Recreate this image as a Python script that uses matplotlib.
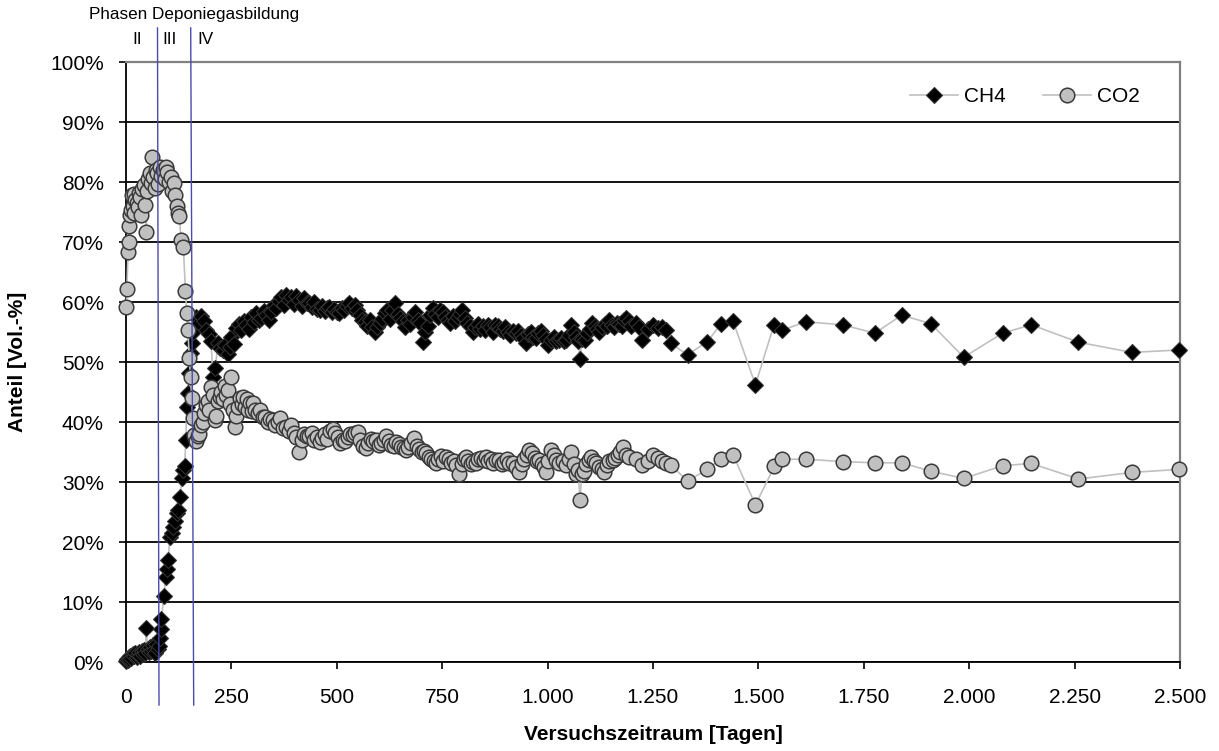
import matplotlib
matplotlib.use('Agg')
import matplotlib.pyplot as plt
import matplotlib.ticker as mticker
from matplotlib.lines import Line2D

plt.rcParams['font.family'] = ['Liberation Sans', 'DejaVu Sans']

# ------------------------------------------------------------
# Data
# ------------------------------------------------------------
ch4_days = [0, 2, 4, 6, 8, 10, 13, 16, 19, 22, 25, 28, 31, 34, 37, 40, 43, 46, 48, 51,
            54, 57, 60, 63, 66, 69, 72, 75, 78, 80, 82, 84, 90, 94, 97, 100, 104, 108, 112, 116,
            120, 124, 128, 133, 136, 139, 142, 144, 147, 150, 153, 157, 160, 166, 172, 178, 184, 190, 196, 202,
            206, 212, 218, 224, 230, 236, 241, 246, 250, 256, 261, 267, 273, 279, 285, 291, 297, 303, 309, 315,
            321, 327, 332, 338, 344, 350, 356, 362, 368, 374, 380, 386, 392, 398, 404, 411, 417, 423, 429, 435,
            441, 447, 453, 459, 465, 471, 477, 482, 488, 494, 500, 506, 512, 518, 524, 530, 536, 542, 548, 554,
            560, 566, 572, 578, 584, 590, 596, 602, 608, 614, 620, 626, 632, 638, 644, 650, 656, 662, 668, 674,
            680, 686, 692, 698, 704, 710, 716, 722, 727, 733, 739, 745, 751, 757, 763, 769, 775, 781, 787, 793,
            798, 804, 810, 816, 822, 828, 834, 840, 846, 852, 858, 864, 870, 876, 882, 888, 894, 900, 906, 912,
            918, 924, 930, 936, 942, 948, 954, 960, 966, 972, 978, 984, 990, 996, 1002, 1008, 1014, 1020, 1026, 1032,
            1038, 1044, 1050, 1056, 1062, 1067, 1073, 1077, 1082, 1088, 1094, 1100, 1106, 1112, 1118, 1123, 1129, 1135, 1141, 1146,
            1152, 1158, 1164, 1170, 1176, 1181, 1186, 1192, 1198, 1209, 1217, 1225, 1237, 1249, 1262, 1272, 1281, 1292, 1332, 1379,
            1412, 1440, 1493, 1537, 1557, 1612, 1700, 1776, 1840, 1909, 1987, 2079, 2147, 2259, 2386, 2497]
ch4_pct = [0.2, 0.5, 0.3, 0.8, 0.5, 1.0, 0.7, 1.3, 1.0, 1.5, 0.8, 1.2, 1.6, 1.0, 1.8, 1.3, 2.0, 1.5, 5.7, 2.2,
           1.6, 2.5, 1.8, 2.8, 2.0, 1.5, 3.0, 2.2, 2.6, 4.0, 5.5, 7.2, 11.0, 14.2, 15.5, 17.0, 20.8, 21.5, 22.5, 23.5,
           24.8, 25.3, 27.5, 30.6, 32.0, 32.6, 37.0, 42.5, 44.8, 48.1, 51.5, 53.2, 55.0, 57.5, 56.5, 57.6, 56.8, 55.3, 54.6, 53.5,
           47.5, 49.0, 53.1, 52.3, 52.0, 52.8, 51.4, 52.5, 54.2, 53.0, 55.6, 56.3, 55.3, 56.8, 56.2, 55.5, 57.5, 56.7, 58.1, 57.0,
           57.3, 58.5, 57.8, 57.0, 58.4, 59.5, 59.0, 60.2, 60.9, 59.5, 61.2, 60.3, 60.9, 59.6, 61.0, 60.3, 59.4, 60.6, 59.8, 59.8,
           59.2, 60.0, 58.8, 58.7, 59.4, 58.5, 59.0, 59.2, 58.3, 58.9, 58.4, 58.1, 59.0, 58.6, 59.3, 59.8, 59.0, 59.5, 58.7, 57.8,
           57.0, 56.7, 56.0, 57.0, 55.8, 55.0, 55.8, 56.5, 57.2, 58.1, 58.6, 57.2, 58.6, 59.8, 58.0, 57.3, 56.8, 55.9, 57.0, 56.3,
           57.5, 58.4, 57.0, 56.5, 53.4, 55.0, 56.0, 57.8, 59.0, 58.0, 57.5, 58.6, 58.4, 57.5, 57.0, 56.5, 57.6, 56.8, 57.5, 58.0,
           58.7, 57.3, 56.5, 56.0, 55.0, 55.8, 56.4, 55.5, 56.0, 55.3, 56.2, 55.8, 55.0, 56.2, 56.0, 55.5, 55.2, 55.8, 55.0, 54.5,
           55.2, 54.8, 55.2, 54.5, 54.0, 53.1, 54.6, 55.0, 54.2, 54.0, 54.8, 55.2, 54.5, 53.8, 52.8, 53.6, 54.2, 53.5, 53.7, 54.0,
           53.5, 53.7, 54.5, 56.2, 55.0, 54.2, 53.5, 50.5, 53.8, 53.7, 54.8, 55.5, 56.5, 56.0, 55.5, 55.0, 55.8, 56.3, 56.0, 57.0,
           56.2, 55.8, 56.5, 56.4, 56.0, 57.0, 57.3, 56.8, 56.0, 56.5, 55.8, 53.7, 55.5, 56.2, 55.6, 55.8, 55.3, 53.1, 51.2, 53.4,
           56.4, 56.8, 46.2, 56.2, 55.3, 56.7, 56.2, 54.8, 57.8, 56.4, 50.8, 54.8, 56.2, 53.3, 51.6, 52.0]

co2_days = [1, 2, 5, 7, 8, 10, 12, 14, 16, 18, 20, 22, 25, 28, 30, 33, 36, 39, 42, 45,
            48, 50, 53, 56, 59, 62, 65, 68, 71, 74, 77, 80, 84, 88, 92, 95, 98, 102, 106, 110,
            114, 117, 121, 123, 126, 131, 136, 141, 144, 147, 150, 153, 156, 158, 162, 166, 170, 174, 178, 182,
            186, 190, 194, 198, 202, 206, 210, 214, 218, 222, 226, 230, 234, 238, 242, 246, 250, 254, 258, 262,
            266, 270, 274, 278, 282, 286, 290, 294, 298, 302, 306, 312, 318, 324, 330, 336, 342, 348, 354, 360,
            366, 372, 380, 386, 392, 398, 404, 411, 417, 423, 429, 435, 441, 447, 453, 459, 465, 471, 477, 484,
            490, 496, 502, 508, 514, 520, 526, 532, 538, 544, 550, 556, 562, 569, 575, 581, 587, 593, 599, 605,
            611, 617, 623, 629, 635, 641, 647, 653, 659, 664, 670, 676, 684, 690, 696, 702, 708, 712, 718, 724,
            730, 735, 741, 747, 753, 759, 765, 771, 777, 783, 790, 796, 802, 806, 812, 818, 824, 830, 836, 842,
            848, 853, 859, 865, 871, 877, 885, 891, 897, 903, 909, 917, 925, 933, 939, 945, 951, 957, 963, 969,
            975, 980, 986, 991, 996, 1002, 1008, 1014, 1020, 1028, 1036, 1044, 1050, 1056, 1062, 1067, 1072, 1077, 1081, 1086,
            1092, 1098, 1104, 1110, 1115, 1121, 1128, 1134, 1140, 1146, 1154, 1160, 1166, 1172, 1178, 1186, 1194, 1209, 1225, 1237,
            1249, 1262, 1272, 1281, 1292, 1332, 1379, 1412, 1440, 1493, 1538, 1557, 1612, 1700, 1776, 1840, 1909, 1987, 2079, 2147,
            2259, 2386, 2497]
co2_pct = [59.2, 62.1, 68.4, 70.0, 72.6, 74.5, 75.3, 77.8, 76.0, 78.0, 74.8, 77.0, 76.5, 75.8, 78.2, 77.5, 74.5, 78.8, 79.5, 76.2,
           71.7, 78.5, 80.5, 81.5, 79.8, 84.2, 80.8, 79.0, 82.0, 81.5, 79.7, 82.5, 81.0, 82.0, 80.5, 82.5, 81.7, 80.0, 80.8, 78.5,
           79.8, 77.8, 76.0, 74.8, 74.4, 70.3, 69.2, 61.9, 58.2, 55.3, 50.6, 47.5, 44.0, 40.6, 37.8, 36.8, 37.6, 38.0, 39.5, 40.0,
           41.5, 42.8, 43.5, 42.0, 45.9, 44.5, 40.3, 41.0, 43.5, 44.2, 45.0, 43.8, 46.0, 44.5, 45.3, 43.0, 47.5, 42.0, 39.2, 41.0,
           42.5, 44.0, 43.0, 44.2, 42.5, 43.8, 42.0, 43.1, 41.8, 43.1, 42.0, 41.5, 42.0, 40.8, 40.9, 40.0, 40.5, 40.3, 39.5, 40.0,
           40.6, 39.0, 39.2, 38.5, 39.5, 38.1, 37.5, 35.0, 37.0, 38.0, 37.6, 37.6, 38.2, 37.0, 37.5, 36.7, 37.3, 38.0, 37.2, 38.5,
           38.9, 38.2, 37.5, 36.5, 37.0, 36.8, 37.5, 38.0, 37.8, 38.2, 38.4, 37.0, 36.0, 35.6, 36.5, 37.2, 36.8, 37.0, 36.2, 36.5,
           37.0, 37.6, 36.8, 36.2, 36.0, 36.7, 36.3, 35.8, 35.6, 35.3, 35.8, 36.5, 37.3, 36.0, 35.5, 35.0, 35.2, 34.8, 34.2, 33.8,
           33.5, 33.1, 33.8, 34.3, 33.5, 34.2, 33.8, 33.2, 33.5, 32.8, 31.4, 33.0, 33.8, 34.2, 33.5, 33.0, 33.4, 33.1, 33.8, 34.0,
           33.6, 34.2, 33.5, 33.8, 33.2, 33.6, 33.7, 33.0, 33.4, 33.8, 33.2, 33.1, 32.5, 31.7, 33.0, 33.8, 34.5, 35.3, 34.8, 34.0,
           33.5, 33.7, 33.0, 32.5, 31.7, 33.5, 35.3, 34.5, 33.6, 33.1, 33.5, 32.8, 33.8, 35.0, 33.0, 31.4, 32.0, 27.0, 31.4, 31.8,
           33.0, 33.7, 34.2, 33.5, 33.1, 32.5, 32.2, 31.7, 32.8, 33.5, 33.7, 34.0, 34.5, 35.0, 35.9, 34.5, 34.2, 33.8, 32.8, 33.5,
           34.5, 34.0, 33.5, 33.2, 32.8, 30.2, 32.1, 33.9, 34.5, 26.2, 32.6, 33.8, 33.8, 33.4, 33.2, 33.2, 31.8, 30.6, 32.7, 33.1,
           30.5, 31.6, 32.1]

phase_labels = ['II', 'III', 'IV']

W, H = 1219, 751
fig = plt.figure(figsize=(W / 100, H / 100), dpi=100)
ax = fig.add_axes([126 / W, 89 / H, 1054 / W, 600 / H])

ax.plot(ch4_days, ch4_pct, color='#c0c0c0', lw=1.2, marker='D', ms=8.5,
        mfc='black', mec='#333333', mew=0.8, label='CH4', clip_on=False, zorder=3)
ax.plot(co2_days, co2_pct, color='#c0c0c0', lw=1.2, marker='o', ms=10.5,
        mfc='#c0c0c0', mec='#3a3a3a', mew=1.1, label='CO2', clip_on=False, zorder=4)

ax.set_xlim(0, 2500)
ax.set_ylim(0, 100)
ax.set_xticks(range(0, 2501, 250))
ax.set_yticks(range(0, 101, 10))
ax.xaxis.set_major_formatter(mticker.FuncFormatter(lambda x, p: f'{x:,.0f}'.replace(',', '.')))
ax.yaxis.set_major_formatter(mticker.FuncFormatter(lambda y, p: f'{y:.0f}%'))
ax.tick_params(axis='both', labelsize=15, direction='out', length=5, width=1.2, color='black')
ax.tick_params(axis='x', pad=14)
ax.tick_params(axis='y', pad=11)

ax.set_axisbelow(True)
ax.yaxis.grid(True, color='black', lw=1.3)
for s in ['left', 'bottom']:
    ax.spines[s].set_color('black')
    ax.spines[s].set_linewidth(1.3)
for s in ['top', 'right']:
    ax.spines[s].set_color('#808080')
    ax.spines[s].set_linewidth(1.6)

fig.text(18 / W, 1 - 362 / H, 'Anteil [Vol.-%]', rotation=90, ha='center', va='center',
         fontsize=15, fontweight='bold')
fig.text(653 / W, 1 - 735 / H, 'Versuchszeitraum [Tagen]', ha='center', va='center',
         fontsize=15, fontweight='bold')

ax.legend(ncol=2, frameon=False, loc='center', bbox_to_anchor=(1025 / W, 1 - 97 / H),
          bbox_transform=fig.transFigure, fontsize=15, numpoints=1,
          handlelength=2.3, handletextpad=0.3, columnspacing=1.8)

# phase markers
fig.text(194 / W, 1 - 15 / H, 'Phasen Deponiegasbildung', ha='center', va='center', fontsize=12.3)
for lab, xp in zip(phase_labels, [137, 170, 205]):
    fig.text(xp / W, 1 - 40 / H, lab, ha='center', va='center', fontsize=12.3)
for x0, x1 in [(157.5, 159.0), (190.7, 193.7)]:
    fig.add_artist(Line2D([x0 / W, x1 / W], [1 - 28 / H, 1 - 705 / H], transform=fig.transFigure,
                          color='#4b4bab', lw=1.0, zorder=10))

fig.savefig('out.png', dpi=100)
